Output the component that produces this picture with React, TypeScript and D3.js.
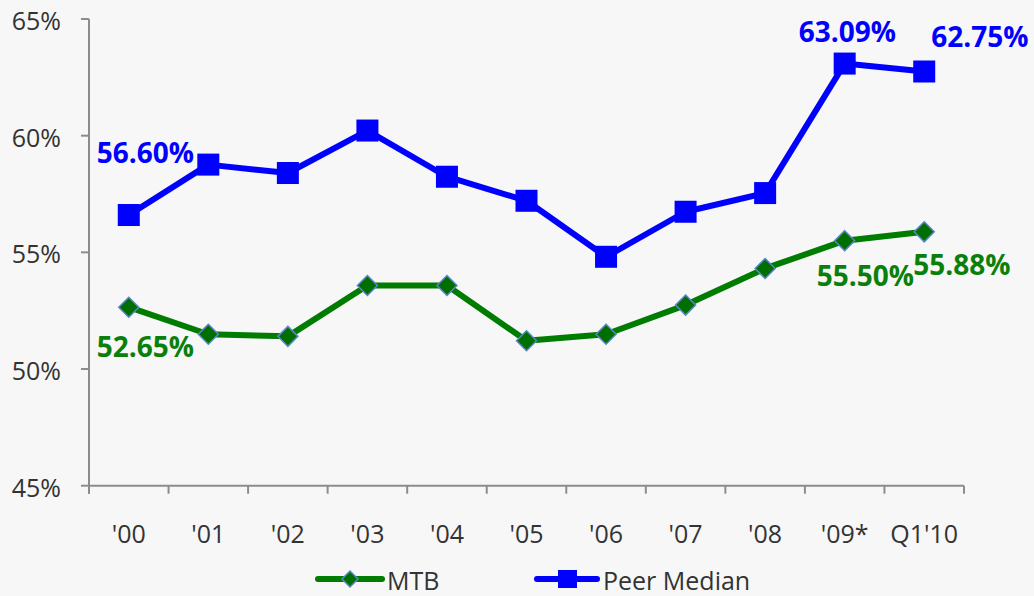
import React from "react";
import * as d3 from "d3";

const categories = ["'00", "'01", "'02", "'03", "'04", "'05", "'06", "'07", "'08", "'09*", "Q1'10"];
const mtb = [52.65, 51.49, 51.4, 53.58, 53.58, 51.21, 51.49, 52.74, 54.31, 55.5, 55.88];
const peerMedian = [56.6, 58.76, 58.4, 60.22, 58.24, 57.21, 54.81, 56.74, 57.54, 63.09, 62.75];
const yTicks = [45, 50, 55, 60, 65];

// Value labels: [category index, dx, dy] offsets from the point
const mtbLabels: [number, number, number][] = [
  [0, -32, 50],
  [9, -28, 45],
  [10, -11, 43],
];
const peerLabels: [number, number, number][] = [
  [0, -32, -52],
  [9, -46, -22],
  [10, 7, -25],
];

const W = 1034;
const H = 596;
const left = 89;
const right = 964;
const top = 19;
const bottom = 485.7;

const BLUE = "#0000ff";
const GREEN = "#007c00";
const GREEN_TEXT = "#0a800a";
const AXIS = "#8c8c8c";
const FONT = "'Open Sans', 'Noto Sans', sans-serif";

export default function App() {
  const x = d3.scaleBand<string>().domain(categories).range([left, right]);
  const y = d3.scaleLinear().domain([45, 65]).range([bottom, top]);
  const cx = (i: number) => (x(categories[i]) as number) + x.bandwidth() / 2;

  const line = d3
    .line<number>()
    .x((_, i) => cx(i))
    .y((v) => y(v));

  const fmt = (v: number) => v.toFixed(2) + "%";
  const xTickPos = categories.map((c) => x(c) as number).concat([right]);

  return (
    <div style={{ position: "fixed", left: 0, top: 0 }}>
      <svg width={W} height={H} style={{ display: "block", background: "#f7f7f7" }}>
        {/* axes */}
        <line x1={left} x2={left} y1={top} y2={bottom + 8} stroke={AXIS} strokeWidth={2} />
        <line x1={left} x2={right} y1={bottom} y2={bottom} stroke={AXIS} strokeWidth={2} />
        {yTicks.map((t) => (
          <g key={t}>
            <line x1={left - 8} x2={left} y1={y(t)} y2={y(t)} stroke={AXIS} strokeWidth={2} />
            <text
              x={61}
              y={y(t) + 11}
              textAnchor="end"
              fontFamily={FONT}
              fontSize={25}
              fill="#333"
            >
              {t}%
            </text>
          </g>
        ))}
        {xTickPos.map((p, i) => (
          <line key={i} x1={p} x2={p} y1={bottom} y2={bottom + 8} stroke={AXIS} strokeWidth={2} />
        ))}
        {categories.map((c, i) => (
          <text
            key={c}
            x={cx(i)}
            y={543}
            textAnchor="middle"
            fontFamily={FONT}
            fontSize={25}
            fill="#333"
          >
            {c}
          </text>
        ))}

        {/* Peer Median series */}
        <path d={line(peerMedian) as string} fill="none" stroke={BLUE} strokeWidth={6} strokeLinejoin="round" />
        {peerMedian.map((v, i) => (
          <rect key={i} x={cx(i) - 11} y={y(v) - 11} width={22} height={22} fill={BLUE} />
        ))}

        {/* MTB series */}
        <path d={line(mtb) as string} fill="none" stroke={GREEN} strokeWidth={6} strokeLinejoin="round" />
        {mtb.map((v, i) => (
          <path
            key={i}
            d={`M${cx(i)},${y(v) - 10}L${cx(i) + 10},${y(v)}L${cx(i)},${y(v) + 10}L${cx(i) - 10},${y(v)}Z`}
            fill="#006e00"
            stroke="#5a86c6"
            strokeWidth={1.5}
          />
        ))}

        {/* value labels */}
        {peerLabels.map(([i, dx, dy]) => (
          <text
            key={"p" + i}
            x={cx(i) + dx}
            y={y(peerMedian[i]) + dy}
            fontFamily={FONT}
            fontWeight={700}
            fontSize={28}
            fill={BLUE}
          >
            {fmt(peerMedian[i])}
          </text>
        ))}
        {mtbLabels.map(([i, dx, dy]) => (
          <text
            key={"m" + i}
            x={cx(i) + dx}
            y={y(mtb[i]) + dy}
            fontFamily={FONT}
            fontWeight={700}
            fontSize={28}
            fill={GREEN_TEXT}
          >
            {fmt(mtb[i])}
          </text>
        ))}

        {/* legend */}
        <g>
          <line x1={318} x2={382} y1={579} y2={579} stroke={GREEN} strokeWidth={6} strokeLinecap="round" />
          <path d="M350,571L358,579L350,587L342,579Z" fill="#006e00" stroke="#5a86c6" strokeWidth={1.5} />
          <text x={387} y={590} fontFamily={FONT} fontSize={25} fill="#333">
            MTB
          </text>
          <line x1={537} x2={597} y1={579} y2={579} stroke={BLUE} strokeWidth={6} strokeLinecap="round" />
          <rect x={558} y={570} width={19} height={18} fill={BLUE} />
          <text x={603} y={590} fontFamily={FONT} fontSize={25} fill="#333">
            Peer Median
          </text>
        </g>
      </svg>
    </div>
  );
}
